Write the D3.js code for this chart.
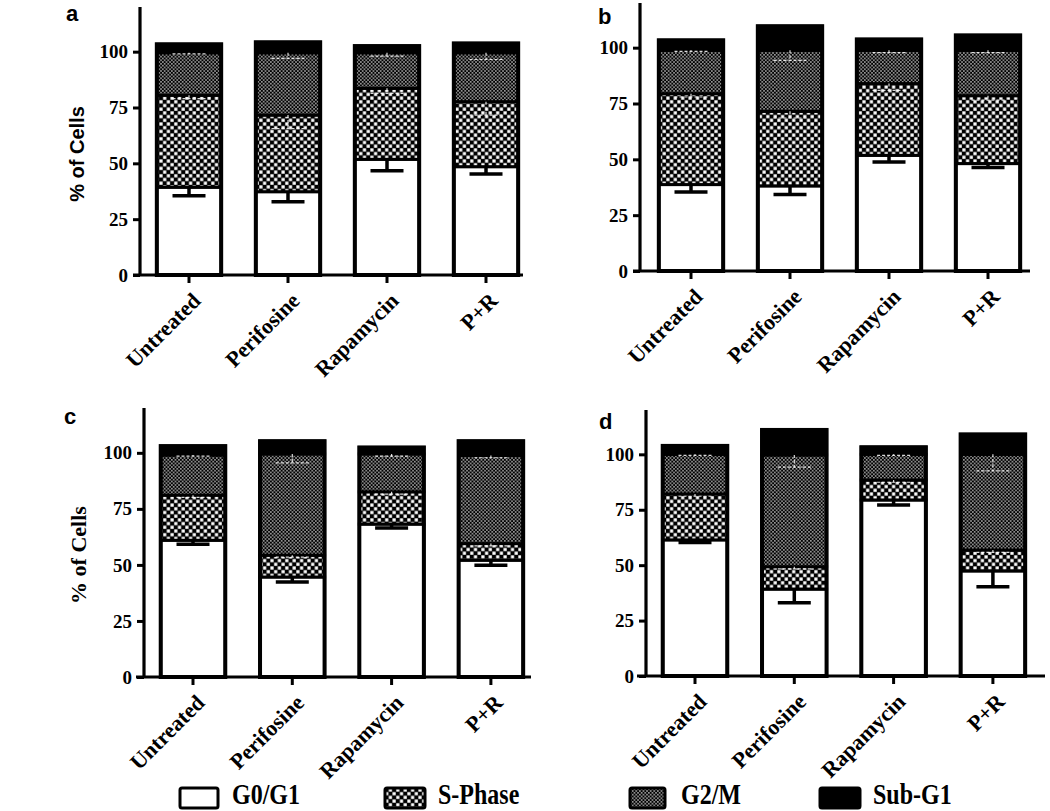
<!DOCTYPE html>
<html><head><meta charset="utf-8">
<script src="https://cdn.jsdelivr.net/npm/d3@7"></script>
<style>body{margin:0;background:#fff}</style>
</head><body>
<svg id="chart" width="1050" height="811"></svg>
<script>
// ---------- data ----------
const categories = ["Untreated", "Perifosine", "Rapamycin", "P+R"];
const phases = ["G0/G1", "S-Phase", "G2/M", "Sub-G1"];
const yTicks = [0, 25, 50, 75, 100];
const panelIds = ["a", "b", "c", "d"];
// segment sizes (% of cells); rows = panels a–d, columns = categories
const g0g1   = [[39.3, 37.3, 51.8, 48.5], [38.7, 38.1, 51.8, 48.1], [61.0, 44.6, 68.2, 52.1], [61.4, 39.2, 79.4, 47.4]];
const sPhase = [[41.2, 34.3, 31.8, 29.1], [40.7, 33.4, 32.1, 30.4], [20.1, 9.7, 14.4, 7.4], [20.7, 10.1, 9.0, 9.4]];
const g2m    = [[19.0, 27.9, 15.9, 21.9], [19.4, 27.3, 14.9, 20.3], [17.9, 45.2, 16.9, 39.3], [17.9, 50.4, 11.6, 43.2]];
const subG1  = [[3.8, 4.7, 3.0, 4.2], [4.5, 10.8, 4.9, 6.7], [4.0, 5.7, 2.9, 6.4], [3.8, 11.3, 3.2, 9.0]];
// error bars (SEM, drawn downward)
const errG0g1 = [[3.8, 4.5, 5.1, 3.3], [3.3, 3.8, 3.0, 1.8], [1.8, 2.2, 1.7, 2.2], [1.2, 6.1, 2.3, 7.1]];
const errS    = [[1.5, 6.0, 2.3, 6.0], [1.5, 3.0, 3.0, 2.0], [1.0, 0.8, 1.0, 1.0], [1.0, 1.0, 1.0, 1.0]];
const errG2m  = [[0.5, 2.5, 1.5, 3.0], [0.5, 4.5, 1.0, 1.0], [0.5, 4.0, 1.0, 1.0], [0.5, 5.5, 0.5, 7.5]];
const yLabels = ["% of Cells", null, "% of Cells", null];

// ---------- layout ----------
const serif = "'Liberation Serif', 'Times New Roman', serif";
const sans = "'Liberation Sans', Arial, sans-serif";
const layout = [
  {yx: 140, y0: 275, yTop: 7,   xl: 133, xr: 523,  c0: 189, step: 99,   lx: 66,  ly: 21,  yfont: sans,  ylx: 84, yly: 154, yfs: 20},
  {yx: 640, y0: 271, yTop: 3,   xl: 633, xr: 1030, c0: 691, step: 99,   lx: 598, ly: 24},
  {yx: 144, y0: 677, yTop: 408, xl: 136, xr: 531,  c0: 193, step: 99.3, lx: 64,  ly: 424, yfont: serif, ylx: 86, yly: 555, yfs: 22},
  {yx: 646, y0: 676, yTop: 410, xl: 637, xr: 1045, c0: 695, step: 99.3, lx: 599, ly: 429}
];

const svg = d3.select("#chart");
const defs = svg.append("defs");
// S-phase: coarse checker
const pS = defs.append("pattern").attr("id", "pat-S").attr("patternUnits", "userSpaceOnUse")
  .attr("width", 7.4).attr("height", 7.4);
pS.append("rect").attr("width", 7.4).attr("height", 7.4).attr("fill", "#000");
pS.append("rect").attr("x", 0.3).attr("y", 0.3).attr("width", 3.2).attr("height", 3.2).attr("fill", "#fff");
pS.append("rect").attr("x", 4.0).attr("y", 4.0).attr("width", 3.2).attr("height", 3.2).attr("fill", "#fff");
// G2/M: fine checker
const pG = defs.append("pattern").attr("id", "pat-G2").attr("patternUnits", "userSpaceOnUse")
  .attr("width", 3.6).attr("height", 3.6);
pG.append("rect").attr("width", 3.6).attr("height", 3.6).attr("fill", "#000");
pG.append("rect").attr("x", 0.2).attr("y", 0.2).attr("width", 1.3).attr("height", 1.3).attr("fill", "#fff");
pG.append("rect").attr("x", 2.0).attr("y", 2.0).attr("width", 1.3).attr("height", 1.3).attr("fill", "#fff");

const fills = {"G0/G1": "#fff", "S-Phase": "url(#pat-S)", "G2/M": "url(#pat-G2)", "Sub-G1": "#000"};

panelIds.forEach((pid, p) => {
  const L = layout[p];
  const g = svg.append("g");
  const x = d3.scaleBand().domain(categories)
    .range([L.c0 - L.step / 2, L.c0 + L.step * (categories.length - 0.5)])
    .paddingInner(0.35).paddingOuter(0.175);
  const y = d3.scaleLinear().domain([0, 120]).range([L.y0, L.yTop]);

  const rows = categories.map((c, i) => ({
    cat: c, "G0/G1": g0g1[p][i], "S-Phase": sPhase[p][i], "G2/M": g2m[p][i], "Sub-G1": subG1[p][i]
  }));
  const stack = d3.stack().keys(phases)(rows);

  stack.forEach(layer => {
    g.append("g").selectAll("rect").data(layer).join("rect")
      .attr("x", d => x(d.data.cat))
      .attr("width", x.bandwidth())
      .attr("y", d => y(d[1]))
      .attr("height", d => y(d[0]) - y(d[1]))
      .attr("fill", fills[layer.key])
      .attr("stroke", "#000").attr("stroke-width", 3);
  });
  // outline
  const top = stack[stack.length - 1];
  g.append("g").selectAll("rect").data(top).join("rect")
    .attr("x", d => x(d.data.cat)).attr("width", x.bandwidth())
    .attr("y", d => y(d[1])).attr("height", d => y(0) - y(d[1]))
    .attr("fill", "none").attr("stroke", "#000").attr("stroke-width", 4);

  // faint white dashed error bars for S-phase and G2/M
  const cap = 16.5;
  [[1, errS], [2, errG2m]].forEach(([k, errArr]) => {
    const eg = g.append("g").attr("stroke", "#fff").attr("stroke-opacity", 0.85).attr("stroke-width", 1.2)
      .attr("stroke-dasharray", "3,2").attr("fill", "none");
    stack[k].forEach((d, i) => {
      const cx = x(d.data.cat) + x.bandwidth() / 2;
      const t = d[1], b = d[1] - errArr[p][i];
      eg.append("line").attr("x1", cx).attr("x2", cx).attr("y1", y(t)).attr("y2", y(b));
      eg.append("line").attr("x1", cx - cap).attr("x2", cx + cap).attr("y1", y(b)).attr("y2", y(b));
    });
  });
  // G0/G1 error bars (black)
  const eg0 = g.append("g").attr("stroke", "#000").attr("stroke-width", 3.5);
  stack[0].forEach((d, i) => {
    const cx = x(d.data.cat) + x.bandwidth() / 2;
    const t = d[1], b = d[1] - errG0g1[p][i];
    eg0.append("line").attr("x1", cx).attr("x2", cx).attr("y1", y(t)).attr("y2", y(b));
    eg0.append("line").attr("x1", cx - cap).attr("x2", cx + cap).attr("y1", y(b)).attr("y2", y(b));
  });

  // y axis
  const ya = g.append("g").attr("transform", `translate(${L.yx},0)`)
    .call(d3.axisLeft(y).tickValues(yTicks).tickSize(7).tickPadding(5).tickFormat(d3.format("d")));
  ya.attr("font-family", serif);
  ya.select(".domain").remove();
  ya.selectAll(".tick line").attr("stroke", "#000").attr("stroke-width", 3);
  ya.selectAll(".tick text").attr("font-family", serif).style("font-family", serif).style("font-weight", "bold")
    .style("font-size", "19px").attr("fill", "#000");
  g.append("line").attr("x1", L.yx).attr("x2", L.yx).attr("y1", y(0)).attr("y2", y(120))
    .attr("stroke", "#000").attr("stroke-width", 3.2);

  // x axis
  const xa = g.append("g").attr("transform", `translate(0,${L.y0})`)
    .call(d3.axisBottom(x).tickSize(8).tickPadding(0));
  xa.attr("font-family", serif);
  xa.select(".domain").remove();
  xa.selectAll(".tick line").attr("stroke", "#000").attr("stroke-width", 3);
  xa.selectAll(".tick text")
    .style("font-family", serif).style("font-weight", "bold").style("font-size", "22px").attr("fill", "#000")
    .attr("text-anchor", "end").attr("x", 0).attr("y", 0).attr("dy", 0)
    .attr("transform", "translate(13,27) rotate(-45)");
  g.append("line").attr("x1", L.xl).attr("x2", L.xr).attr("y1", L.y0).attr("y2", L.y0)
    .attr("stroke", "#000").attr("stroke-width", 3.2);

  // panel letter
  g.append("text").attr("x", L.lx).attr("y", L.ly).text(pid)
    .style("font-family", sans).style("font-weight", "bold").style("font-size", "22px");

  // y label
  if (yLabels[p]) {
    g.append("text").attr("transform", `translate(${L.ylx},${L.yly}) rotate(-90)`)
      .attr("text-anchor", "middle").text(yLabels[p])
      .attr("font-family", L.yfont).style("font-family", L.yfont).style("font-weight", "bold").style("font-size", L.yfs + "px");
  }
});

// ---------- legend ----------
const legendBoxX = [180, 385, 630, 820];
const legendBoxW = [38, 40, 35, 40];
const legendTextX = [232, 438, 681, 873];
const lg = svg.append("g");
phases.forEach((ph, i) => {
  lg.append("rect").attr("x", legendBoxX[i]).attr("y", 788).attr("width", legendBoxW[i]).attr("height", 20)
    .attr("rx", 2).attr("fill", fills[ph]).attr("stroke", "#000").attr("stroke-width", 3);
  lg.append("text").attr("transform", `translate(${legendTextX[i]},804) scale(1,1.2)`)
    .text(ph).style("font-family", serif).style("font-weight", "bold").style("font-size", "24px").attr("fill", "#000");
});
</script>
</body></html>
